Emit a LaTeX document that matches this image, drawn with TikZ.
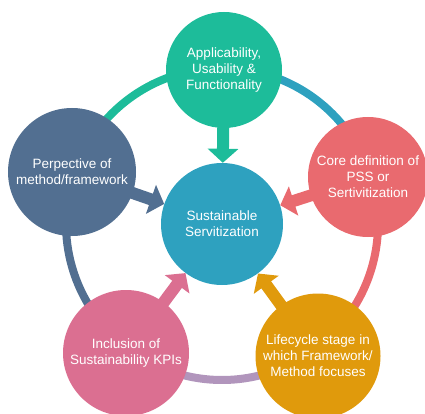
\documentclass[tikz,border=0pt]{standalone}
\usepackage{fontspec}
\setmainfont{Liberation Sans}
\usetikzlibrary{arrows.meta,backgrounds}
\definecolor{cteal}{RGB}{29,188,154}
\definecolor{cblue}{RGB}{46,161,191}
\definecolor{cslate}{RGB}{82,111,145}
\definecolor{csalmon}{RGB}{233,106,111}
\definecolor{cpink}{RGB}{219,111,145}
\definecolor{corange}{RGB}{224,154,12}
\definecolor{clav}{RGB}{177,149,188}
\begin{document}
\begin{tikzpicture}[x=1pt,y=-1pt,
  bub/.style={circle,inner sep=0pt,text=white,align=center,
    font=\fontsize{13.5}{16}\selectfont},
  ring/.style={line width=8pt},
  arr/.style={line width=12pt,-{Triangle[width=30pt,length=14pt]}}]
\useasboundingbox (0,0) rectangle (425,414);
\clip (0,0) rectangle (425,414);
\node[bub,fill=cblue,minimum size=122pt] (ctr) at (222,224) {Sustainable\\Servitization};
\node[bub,fill=cteal,minimum size=116pt] (top) at (224,70) {Applicability,\\Usability \&\\Functionality};
\node[bub,fill=cslate,minimum size=128pt] (lft) at (72,172) {Perpective of\\method/framework};
\node[bub,fill=csalmon,minimum size=120pt] (rgt) at (368,177) {Core definition of\\PSS or\\Sertivitization};
\node[bub,fill=cpink,minimum size=126pt] (bl) at (126,353) {Inclusion of\\Sustainability KPIs};
\node[bub,fill=corange,minimum size=125pt] (br) at (318,356) {Lifecycle stage in\\which Framework/\\Method focuses};
\begin{scope}[on background layer]
  \draw[ring,clav]    ([shift={(222,224)}]54:156) arc[start angle=54,end angle=128,radius=156];
  \draw[ring,cslate]  ([shift={(222,224)}]128:156) arc[start angle=128,end angle=199,radius=156];
  \draw[ring,cteal]   ([shift={(222,224)}]199:156) arc[start angle=199,end angle=271,radius=156];
  \draw[ring,cblue]   ([shift={(222,224)}]271:156) arc[start angle=271,end angle=342,radius=156];
  \draw[ring,csalmon] ([shift={(222,224)}]342:156) arc[start angle=342,end angle=414,radius=156];
  \draw[arr,cteal]   (top.center) -- (ctr);
  \draw[arr,cslate]  (lft.center) -- (ctr);
  \draw[arr,csalmon] (rgt.center) -- (ctr);
  \draw[arr,cpink]   (bl.center) -- (ctr);
  \draw[arr,corange] (br.center) -- (ctr);
\end{scope}
\end{tikzpicture}
\end{document}
